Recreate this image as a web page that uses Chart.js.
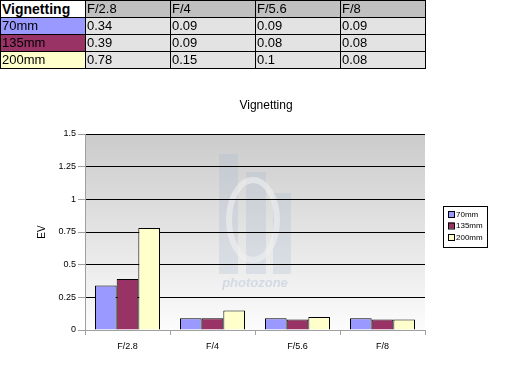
<!DOCTYPE html>
<html>
<head>
<meta charset="utf-8">
<script src="https://cdn.jsdelivr.net/npm/chart.js@4"></script>
<style>
  html, body { margin: 0; padding: 0; background: #fff; width: 512px; height: 376px; overflow: hidden; }
  #wrap { position: relative; width: 512px; height: 376px; }
  #c { position: absolute; left: 0; top: 0; }
  table { position: absolute; left: 0; top: 0; border-collapse: collapse; font-family: "Liberation Sans", Arial, sans-serif; font-size: 13px; table-layout: fixed; width: 426px; }
  td { border: 1px solid #000; height: 16px; padding: 0 0 0 1px; line-height: 16px; overflow: hidden; white-space: nowrap; }
  td.head { background: #c0c0c0; }
  td.val { background: #e3e3e3; }
  td.corner { background: #fff; font-weight: bold; font-size: 14px; }
</style>
</head>
<body>
<div id="wrap">
  <canvas id="c" width="512" height="376"></canvas>
  <table id="tbl"></table>
</div>
<script>
const chartTitle = "Vignetting";
const yTitle = "EV";
const categories = ["F/2.8", "F/4", "F/5.6", "F/8"];
const seriesNames = ["70mm", "135mm", "200mm"];
const seriesColors = ["#9999ff", "#993366", "#ffffcc"];
const values70 = [0.34, 0.09, 0.09, 0.09];
const values135 = [0.39, 0.09, 0.08, 0.08];
const values200 = [0.78, 0.15, 0.1, 0.08];
const yTicks = ["0", "0.25", "0.5", "0.75", "1", "1.25", "1.5"];
const seriesValues = [values70, values135, values200];

// Table
const tbl = document.getElementById('tbl');
let html = '<colgroup>' + '<col style="width:85px">'.repeat(5) + '</colgroup>';
html += '<tr><td class="corner">' + chartTitle + '</td>' + categories.map(c => '<td class="head">' + c + '</td>').join('') + '</tr>';
seriesNames.forEach((n, i) => {
  html += '<tr><td style="background:' + seriesColors[i] + '">' + n + '</td>' +
    seriesValues[i].map(v => '<td class="val">' + v + '</td>').join('') + '</tr>';
});
tbl.innerHTML = html;

const FONT = '"Liberation Sans", Arial, sans-serif';

const bgPlugin = {
  id: 'bgPlugin',
  beforeDraw(chart) {
    const { ctx, chartArea: a } = chart;
    ctx.save();
    const g = ctx.createLinearGradient(0, a.top, 0, a.bottom);
    g.addColorStop(0, '#cbcbcb');
    g.addColorStop(1, '#fcfcfc');
    ctx.fillStyle = g;
    ctx.fillRect(a.left, a.top, a.right - a.left, a.bottom - a.top);
    // faint watermark
    const cx = (a.left + a.right) / 2;
    ctx.fillStyle = 'rgba(165,185,210,0.25)';
    ctx.fillRect(cx - 36, a.top + 20, 19, 120);
    ctx.fillRect(cx - 9, a.top + 38, 20, 102);
    ctx.fillRect(cx + 18, a.top + 59, 18, 81);
    ctx.strokeStyle = 'rgba(240,240,240,0.6)';
    ctx.lineWidth = 6;
    ctx.beginPath();
    ctx.ellipse(cx - 2, a.top + 86, 24, 40, 0, 0, Math.PI * 2);
    ctx.stroke();
    ctx.fillStyle = 'rgba(165,185,210,0.4)';
    ctx.font = 'italic bold 13px ' + FONT;
    ctx.textAlign = 'center';
    ctx.textBaseline = 'middle';
    ctx.fillText('photozone', cx, a.top + 149);
    ctx.restore();
  },
  afterDraw(chart) {
    const { ctx } = chart;
    ctx.save();
    // title
    ctx.fillStyle = '#000';
    ctx.font = '12px ' + FONT;
    ctx.textAlign = 'center';
    ctx.textBaseline = 'middle';
    ctx.fillText(chartTitle, 266, 106);
    // legend
    const lx = 443, ly = 206, lw = 44, lh = 41;
    ctx.fillStyle = '#fff';
    ctx.fillRect(lx, ly, lw, lh);
    ctx.strokeStyle = '#000';
    ctx.lineWidth = 1;
    ctx.strokeRect(lx + 0.5, ly + 0.5, lw, lh);
    ctx.font = '8px ' + FONT;
    ctx.textAlign = 'left';
    chart.data.datasets.forEach((ds, i) => {
      const y = ly + 8 + i * 11.5;
      ctx.fillStyle = ds.backgroundColor;
      ctx.fillRect(lx + 5, y - 3, 6, 6);
      ctx.strokeStyle = '#000';
      ctx.strokeRect(lx + 5.5, y - 2.5, 6, 6);
      ctx.fillStyle = '#000';
      ctx.fillText(ds.label, lx + 13, y + 0.5);
    });
    ctx.restore();
  }
};

new Chart(document.getElementById('c'), {
  type: 'bar',
  data: {
    labels: categories,
    datasets: seriesNames.map((n, i) => ({
      label: n,
      data: seriesValues[i],
      backgroundColor: seriesColors[i],
      borderColor: '#000',
      borderWidth: 1,
      categoryPercentage: 0.765,
      barPercentage: 1.0
    }))
  },
  options: {
    responsive: false,
    animation: false,
    devicePixelRatio: 1,
    layout: { padding: { left: 0, top: 134, right: 87, bottom: 0 } },
    plugins: { legend: { display: false }, title: { display: false }, tooltip: { enabled: false } },
    scales: {
      x: {
        grid: { drawOnChartArea: false, offset: true, tickLength: 5, tickColor: '#a0a0a0' },
        border: { color: '#a0a0a0', width: 1 },
        ticks: { color: '#000', font: { family: FONT, size: 9 }, padding: 6, maxRotation: 0 },
        afterFit(s) { s.height = 46; }
      },
      y: {
        min: 0, max: 1.5,
        ticks: {
          stepSize: 0.25,
          color: '#000',
          font: { family: FONT, size: 9 },
          padding: 2,
          callback: (v, i) => yTicks[i]
        },
        grid: {
          color: (c) => (c.tick && c.tick.value === 0) ? 'rgba(0,0,0,0)' : '#000',
          tickColor: '#a0a0a0',
          tickLength: 7,
          lineWidth: 1
        },
        border: { color: '#a0a0a0', width: 1 },
        title: { display: true, text: yTitle, color: '#000', font: { family: FONT, size: 10 }, padding: { top: 36, bottom: 0 } },
        afterFit(s) { s.width = 85; }
      }
    }
  },
  plugins: [bgPlugin]
});
</script>
</body>
</html>
